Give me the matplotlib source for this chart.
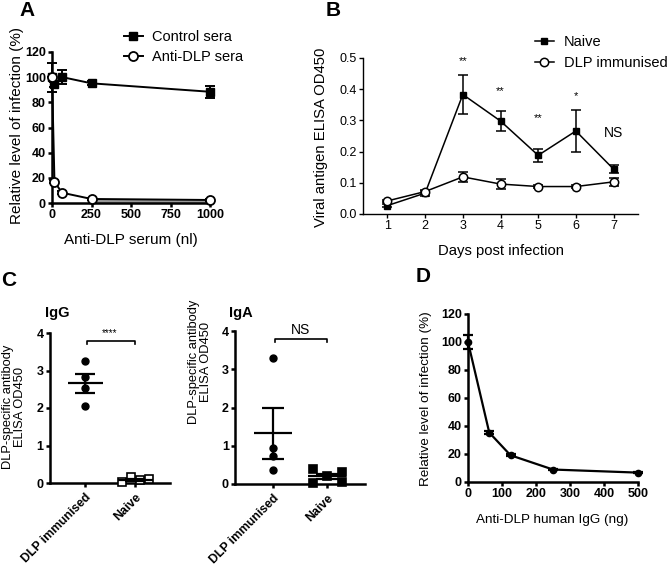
import numpy as np
import matplotlib
matplotlib.use("Agg")
import matplotlib.pyplot as plt
from matplotlib.lines import Line2D

W, H = 668, 569

plt.rcParams.update({
    "font.family": ["Liberation Sans", "DejaVu Sans"],
    "axes.spines.top": False,
    "axes.spines.right": False,
    "xtick.direction": "out",
    "ytick.direction": "out",
})

# ---- panel A: neutralisation by sera
a_dose = [0, 15.6, 62.5, 250, 1000]
a_control = [100, 94.3, 100.1, 95.1, 88.4]
a_control_err = [11.5, 2.0, 5.3, 1.5, 4.7]
a_anti = [100, 17.0, 8.2, 3.2, 2.4]
a_anti_err = [0, 1.0, 1.0, 0.5, 0.5]

# ---- panel B: viral antigen over time
b_days = [1, 2, 3, 4, 5, 6, 7]
b_naive = [0.027, 0.067, 0.383, 0.298, 0.188, 0.266, 0.144]
b_naive_err = [0.005, 0.008, 0.061, 0.033, 0.021, 0.066, 0.014]
b_dlp = [0.042, 0.072, 0.119, 0.096, 0.088, 0.088, 0.103]
b_dlp_err = [0.004, 0.006, 0.016, 0.015, 0.004, 0.004, 0.012]
b_sig = ["**", "**", "**", "*", "NS"]
b_sig_days = [3, 4, 5, 6, 7]
b_sig_y = [0.49, 0.395, 0.306, 0.378, 0.26]

# ---- panel C: antibody ELISA
groups = ["DLP immunised", "Naive"]
igg_dlp = [3.25, 2.82, 2.53, 2.05]
igg_naive = [0.03, 0.15, 0.07, 0.10]
igg_naive_jitter = [-0.26, -0.08, 0.10, 0.28]
iga_dlp = [3.30, 0.93, 0.72, 0.37]
iga_naive = [0.39, 0.02, 0.20, 0.32, 0.06]
iga_naive_jitter = [-0.26, -0.26, 0.0, 0.27, 0.27]

# ---- panel D: human IgG
d_dose = [0, 62.5, 125, 250, 500]
d_inf = [100, 35.3, 19.1, 8.9, 6.7]
d_err = [5.3, 0.8, 0.8, 0.5, 0.5]


def axes_px(fig, left, top, right, bottom):
    return fig.add_axes([left / W, 1 - bottom / H, (right - left) / W, (bottom - top) / H])


def text_px(fig, x, y, s, **kw):
    kw.setdefault("ha", "center")
    kw.setdefault("va", "center")
    fig.text(x / W, 1 - y / H, s, **kw)


def style(ax, lw, size, weight):
    for sp in ("left", "bottom"):
        ax.spines[sp].set_linewidth(lw)
    ax.tick_params(width=lw, length=3, labelsize=size, pad=1.5)
    for lab in ax.get_xticklabels() + ax.get_yticklabels():
        lab.set_fontweight(weight)


def mean_sem(ax, x, vals, half, cap, lw=1.6):
    m = np.mean(vals)
    s = np.std(vals, ddof=1) / np.sqrt(len(vals))
    ax.hlines(m, x - half, x + half, color="black", lw=lw, zorder=4)
    ax.vlines(x, m - s, m + s, color="black", lw=lw, zorder=4)
    ax.hlines([m - s, m + s], x - cap, x + cap, color="black", lw=lw, zorder=4)


fig = plt.figure(figsize=(W / 100, H / 100), dpi=100)

# ------------------------------------------------------------- A
ax = axes_px(fig, 52, 52, 210, 203)
ax.fill_between(a_dose[3:], 0, a_anti[3:], color="0.6", lw=0)
ax.errorbar(a_dose, a_control, yerr=a_control_err, fmt="none", ecolor="black",
            elinewidth=1.4, capsize=3.5, capthick=1.4, clip_on=False)
ax.plot(a_dose, a_control, color="black", marker="s", ms=5.5, lw=1.4, clip_on=False, zorder=3)
ax.errorbar(a_dose, a_anti, yerr=a_anti_err, fmt="none", ecolor="black",
            elinewidth=1.4, capsize=3.5, capthick=1.4, clip_on=False)
ax.plot(a_dose, a_anti, color="black", marker="o", ms=6.5, mfc="white", mew=1.3,
        lw=1.4, clip_on=False, zorder=4)
ax.set_xlim(0, 1000)
ax.set_ylim(0, 120)
ax.set_xticks([0, 250, 500, 750, 1000])
ax.set_yticks(range(0, 121, 20))
style(ax, 1.8, 9, "bold")
handles = [Line2D([], [], color="black", marker="s", ms=5.5, lw=1.4),
           Line2D([], [], color="black", marker="o", ms=6.5, mfc="white", mew=1.3, lw=1.4)]
ax.legend(handles, ["Control sera", "Anti-DLP sera"], loc="upper left",
          bbox_to_anchor=(124 / W, 1 - 30 / H), bbox_transform=fig.transFigure,
          frameon=False, fontsize=10.5, handlelength=1.3, handletextpad=0.6,
          borderpad=0, borderaxespad=0, labelspacing=0.4)
text_px(fig, 17, 126, "Relative level of infection (%)", rotation=90, fontsize=11)
text_px(fig, 131, 240, "Anti-DLP serum (nl)", fontsize=11)

# ------------------------------------------------------------- B
ax = axes_px(fig, 363, 58, 638, 214)
ax.errorbar(b_days, b_naive, yerr=b_naive_err, color="black", marker="s", ms=4.8,
            lw=1.1, elinewidth=1.1, capsize=3.5, capthick=1.1)
ax.errorbar(b_days, b_dlp, yerr=b_dlp_err, color="black", marker="o", ms=6,
            mfc="white", mew=1.1, lw=1.1, elinewidth=1.1, capsize=3.5, capthick=1.1)
for d, s, y in zip(b_sig_days, b_sig, b_sig_y):
    ax.text(d, y, s, ha="center", va="center", fontsize=8 if "*" in s else 10)
ax.set_xlim(0.35, 7.65)
ax.set_ylim(0, 0.5)
ax.set_xticks(b_days)
ax.set_yticks(np.arange(0, 0.51, 0.1))
ax.set_yticklabels([f"{v:.1f}" for v in np.arange(0, 0.51, 0.1)])
style(ax, 1.0, 9, "normal")
handles = [Line2D([], [], color="black", marker="s", ms=4.8, lw=1.1),
           Line2D([], [], color="black", marker="o", ms=6, mfc="white", mew=1.1, lw=1.1)]
ax.legend(handles, ["Naive", "DLP immunised"], loc="upper left",
          bbox_to_anchor=(535 / W, 1 - 35 / H), bbox_transform=fig.transFigure,
          frameon=False, fontsize=10.5, handlelength=1.3, handletextpad=0.7,
          borderpad=0, borderaxespad=0, labelspacing=0.5)
text_px(fig, 321, 137, "Viral antigen ELISA OD450", rotation=90, fontsize=10.7)
text_px(fig, 501, 251, "Days post infection", fontsize=10.7)

# ------------------------------------------------------------- C (IgG, IgA)
for (left, top, right, bottom, dlp, naive, jit, open_sq, title, sig, ylab_x, ylab_y,
     title_x) in [
        (50, 333, 170, 483, igg_dlp, igg_naive, igg_naive_jitter, True, "IgG", "****", 14, 407, 57),
        (235, 331, 365, 484, iga_dlp, iga_naive, iga_naive_jitter, False, "IgA", "NS", 200, 362, 241)]:
    ax = axes_px(fig, left, top, right, bottom)
    ax.plot(np.zeros(len(dlp)), dlp, "o", color="black", ms=5, zorder=3)
    ax.plot(1 + np.array(jit), naive, "s", color="black", ms=5.2,
            mfc="white" if open_sq else "black", mew=1.2, zorder=3, clip_on=False)
    mean_sem(ax, 0, dlp, 0.35, 0.2)
    mean_sem(ax, 1, naive, 0.35, 0.2)
    ax.plot([0.03, 0.03, 0.99, 0.99], [3.7, 3.78, 3.78, 3.7], color="black", lw=1.2)
    if sig == "NS":
        ax.text(0.5, 4.02, sig, ha="center", va="center", fontsize=10)
    else:
        ax.text(0.5, 4.0, sig, ha="center", va="center", fontsize=7)
    ax.set_xlim(-0.7, 1.7)
    ax.set_ylim(0, 4)
    ax.set_yticks(range(0, 5))
    ax.set_xticks([0, 1])
    ax.set_xticklabels(groups, rotation=45, ha="right", rotation_mode="anchor")
    style(ax, 1.8, 9, "bold")
    ax.tick_params(axis="x", labelsize=8.8, pad=3)
    text_px(fig, ylab_x, ylab_y, "DLP-specific antibody\nELISA OD450", rotation=90,
            fontsize=9.3, linespacing=1.1)
    text_px(fig, title_x, 313, title, fontsize=10.5, fontweight="bold")

# ------------------------------------------------------------- D
ax = axes_px(fig, 468, 314, 638, 482)
ax.errorbar(d_dose, d_inf, yerr=d_err, color="black", marker="o", ms=4.5, lw=1.6,
            elinewidth=1.6, capsize=3.5, capthick=1.6, clip_on=False)
ax.set_xlim(0, 500)
ax.set_ylim(0, 120)
ax.set_xticks(range(0, 501, 100))
ax.set_yticks(range(0, 121, 20))
style(ax, 1.8, 9, "bold")
text_px(fig, 426, 399, "Relative level of infection (%)", rotation=90, fontsize=9.7)
text_px(fig, 552, 520, "Anti-DLP human IgG (ng)", fontsize=9.7)

# ------------------------------------------------------------- panel letters
for x, y, s in [(27, 10, "A"), (333, 10, "B"), (9, 280, "C"), (423, 277, "D")]:
    text_px(fig, x, y, s, fontsize=15, fontweight="bold")

fig.savefig("out.png", dpi=100)
